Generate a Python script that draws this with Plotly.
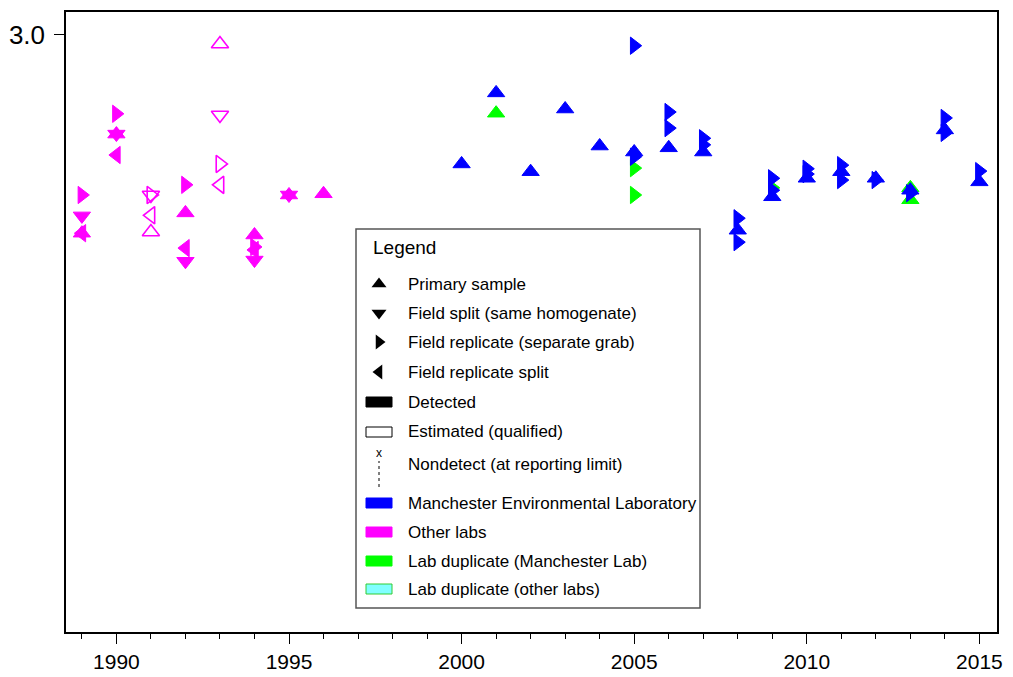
import plotly.graph_objects as go

# ---- data: year, value ----
# Other labs, detected
oth_up_x = [1989, 1990, 1992, 1994, 1995, 1996]
oth_up_y = [2.668, 2.834, 2.702, 2.665, 2.732, 2.734]
oth_dn_x = [1989, 1990, 1992, 1994, 1995]
oth_dn_y = [2.697, 2.834, 2.621, 2.623, 2.732]
oth_rt_x = [1989, 1990, 1992, 1994]
oth_rt_y = [2.732, 2.868, 2.749, 2.645]
oth_lt_x = [1989, 1990, 1992, 1994]
oth_lt_y = [2.668, 2.799, 2.643, 2.640]
# Other labs, estimated (qualified)
est_up_x = [1991, 1993]
est_up_y = [2.670, 2.985]
est_dn_x = [1991, 1993]
est_dn_y = [2.732, 2.866]
est_rt_x = [1991, 1993]
est_rt_y = [2.732, 2.784]
est_lt_x = [1991, 1993]
est_lt_y = [2.698, 2.749]
# Manchester Environmental Laboratory
mel_up_x = [2000, 2001, 2002, 2003, 2004, 2005, 2006, 2007, 2008, 2009, 2010, 2011, 2012, 2013, 2014, 2015]
mel_up_y = [2.784, 2.903, 2.771, 2.876, 2.814, 2.804, 2.811, 2.804, 2.673, 2.729, 2.760, 2.771, 2.760, 2.740, 2.841, 2.754]
mel_rt_x = [2005, 2005, 2006, 2006, 2007, 2007, 2008, 2008, 2009, 2009, 2010, 2010, 2011, 2011, 2012, 2013, 2014, 2014, 2015]
mel_rt_y = [2.982, 2.796, 2.871, 2.844, 2.827, 2.816, 2.693, 2.653, 2.760, 2.740, 2.776, 2.767, 2.782, 2.757, 2.757, 2.735, 2.861, 2.836, 2.772]
# Lab duplicates (Manchester Lab)
dup_up_x = [2001, 2013, 2013]
dup_up_y = [2.869, 2.744, 2.724]
dup_rt_x = [2005, 2005, 2009]
dup_rt_y = [2.777, 2.732, 2.744]

BLUE, MAGENTA, GREEN = "#0000ff", "#ff00ff", "#00ff00"
SANS = "Liberation Sans, Arial"

# page body adds an 8px margin, so the figure is a bit smaller than the window
OFF = 8
W, H = 1005, 669
L, R, T, B = 58, 16, 4, 45


def px(x):
    # screen pixel -> paper fraction
    return (x - OFF - L) / (W - L - R)


def py(y):
    return 1 - (y - OFF - T) / (H - T - B)


fig = go.Figure()


def add(x, y, symbol, color, open_=False):
    if open_:
        marker = dict(symbol=symbol + "-open", size=15, color=color, line=dict(color=color, width=1.6))
    else:
        marker = dict(symbol=symbol, size=15, color=color, line=dict(color=color, width=1))
    fig.add_trace(go.Scatter(x=x, y=y, mode="markers", marker=marker, showlegend=False, hoverinfo="x+y"))


add(oth_up_x, oth_up_y, "triangle-up", MAGENTA)
add(oth_dn_x, oth_dn_y, "triangle-down", MAGENTA)
add(oth_rt_x, oth_rt_y, "triangle-right", MAGENTA)
add(oth_lt_x, oth_lt_y, "triangle-left", MAGENTA)
add(est_up_x, est_up_y, "triangle-up", MAGENTA, True)
add(est_dn_x, est_dn_y, "triangle-down", MAGENTA, True)
add(est_rt_x, est_rt_y, "triangle-right", MAGENTA, True)
add(est_lt_x, est_lt_y, "triangle-left", MAGENTA, True)
add(dup_up_x, dup_up_y, "triangle-up", GREEN)
add(dup_rt_x, dup_rt_y, "triangle-right", GREEN)
add(mel_up_x, mel_up_y, "triangle-up", BLUE)
add(mel_rt_x, mel_rt_y, "triangle-right", BLUE)

# ---- hand-drawn legend box ----
shapes = [dict(type="rect", xref="paper", yref="paper", x0=px(356), x1=px(700), y0=py(608), y1=py(229),
               line=dict(color="#555555", width=1.5), fillcolor="white", layer="below")]
ann = [dict(text="Legend", x=px(371), y=py(247), xref="paper", yref="paper", xanchor="left", yanchor="middle",
            showarrow=False, font=dict(family=SANS, size=19, color="black"))]

labels = ["Primary sample", "Field split (same homogenate)", "Field replicate (separate grab)",
          "Field replicate split", "Detected", "Estimated (qualified)", "Nondetect (at reporting limit)",
          "Manchester Environmental Laboratory", "Other labs", "Lab duplicate (Manchester Lab)",
          "Lab duplicate (other labs)"]
rows = [284, 313, 342, 372, 402, 432, 465, 503, 532, 561, 589]
for lab, r in zip(labels, rows):
    ann.append(dict(text=lab, x=px(406), y=py(r), xref="paper", yref="paper", xanchor="left", yanchor="middle",
                    showarrow=False, font=dict(family=SANS, size=17, color="black")))

# legend symbols, drawn on an overlay axis in paper units
leg_syms = ["triangle-up", "triangle-down", "triangle-right", "triangle-left"]
fig.add_trace(go.Scatter(x=[px(379)] * 4, y=[py(r) for r in rows[:4]], xaxis="x2", yaxis="y2",
                         mode="markers", marker=dict(symbol=leg_syms, size=13, color="black"),
                         showlegend=False, hoverinfo="skip"))

swatches = [(402, "black", "black"), (432, "white", "black"), (503, BLUE, BLUE), (532, MAGENTA, MAGENTA),
            (561, GREEN, GREEN), (589, "#80ffff", "#33cc33")]
for r, fill, edge in swatches:
    shapes.append(dict(type="rect", xref="paper", yref="paper", x0=px(366), x1=px(392), y0=py(r + 5), y1=py(r - 5),
                       fillcolor=fill, line=dict(color=edge, width=1), layer="above"))
# nondetect glyph
ann.append(dict(text="x", x=px(379), y=py(462), xref="paper", yref="paper", showarrow=False,
                font=dict(family=SANS, size=12, color="black")))
shapes.append(dict(type="line", xref="paper", yref="paper", x0=px(379), x1=px(379), y0=py(487), y1=py(461),
                   line=dict(color="black", width=1, dash="dot"), layer="above"))

fig.update_layout(
    width=W, height=H, margin=dict(l=L, r=R, t=T, b=B),
    paper_bgcolor="white", plot_bgcolor="white", showlegend=False,
    shapes=shapes, annotations=ann,
    xaxis=dict(range=[1988.54, 2015.51], tickmode="linear", tick0=1990, dtick=5, ticks="outside", ticklen=10,
               tickcolor="black", showgrid=False, zeroline=False, showline=True, linecolor="black", linewidth=1.5,
               mirror=True, automargin=False, tickfont=dict(family=SANS, size=21, color="black"),
               minor=dict(dtick=1, tick0=1990, ticks="outside", ticklen=5, tickcolor="black", showgrid=False)),
    yaxis=dict(range=[2.0, 3.0385], tickvals=[3.0], ticktext=["3.0"], ticks="outside", ticklen=10,
               ticklabelstandoff=4,
               tickcolor="black", showgrid=False, zeroline=False, showline=True, linecolor="black", linewidth=1.5,
               mirror=True, automargin=False, tickfont=dict(family=SANS, size=26, color="black")),
    xaxis2=dict(overlaying="x", range=[0, 1], visible=False),
    yaxis2=dict(overlaying="y", range=[0, 1], visible=False),
)

fig.write_html("out.html")
